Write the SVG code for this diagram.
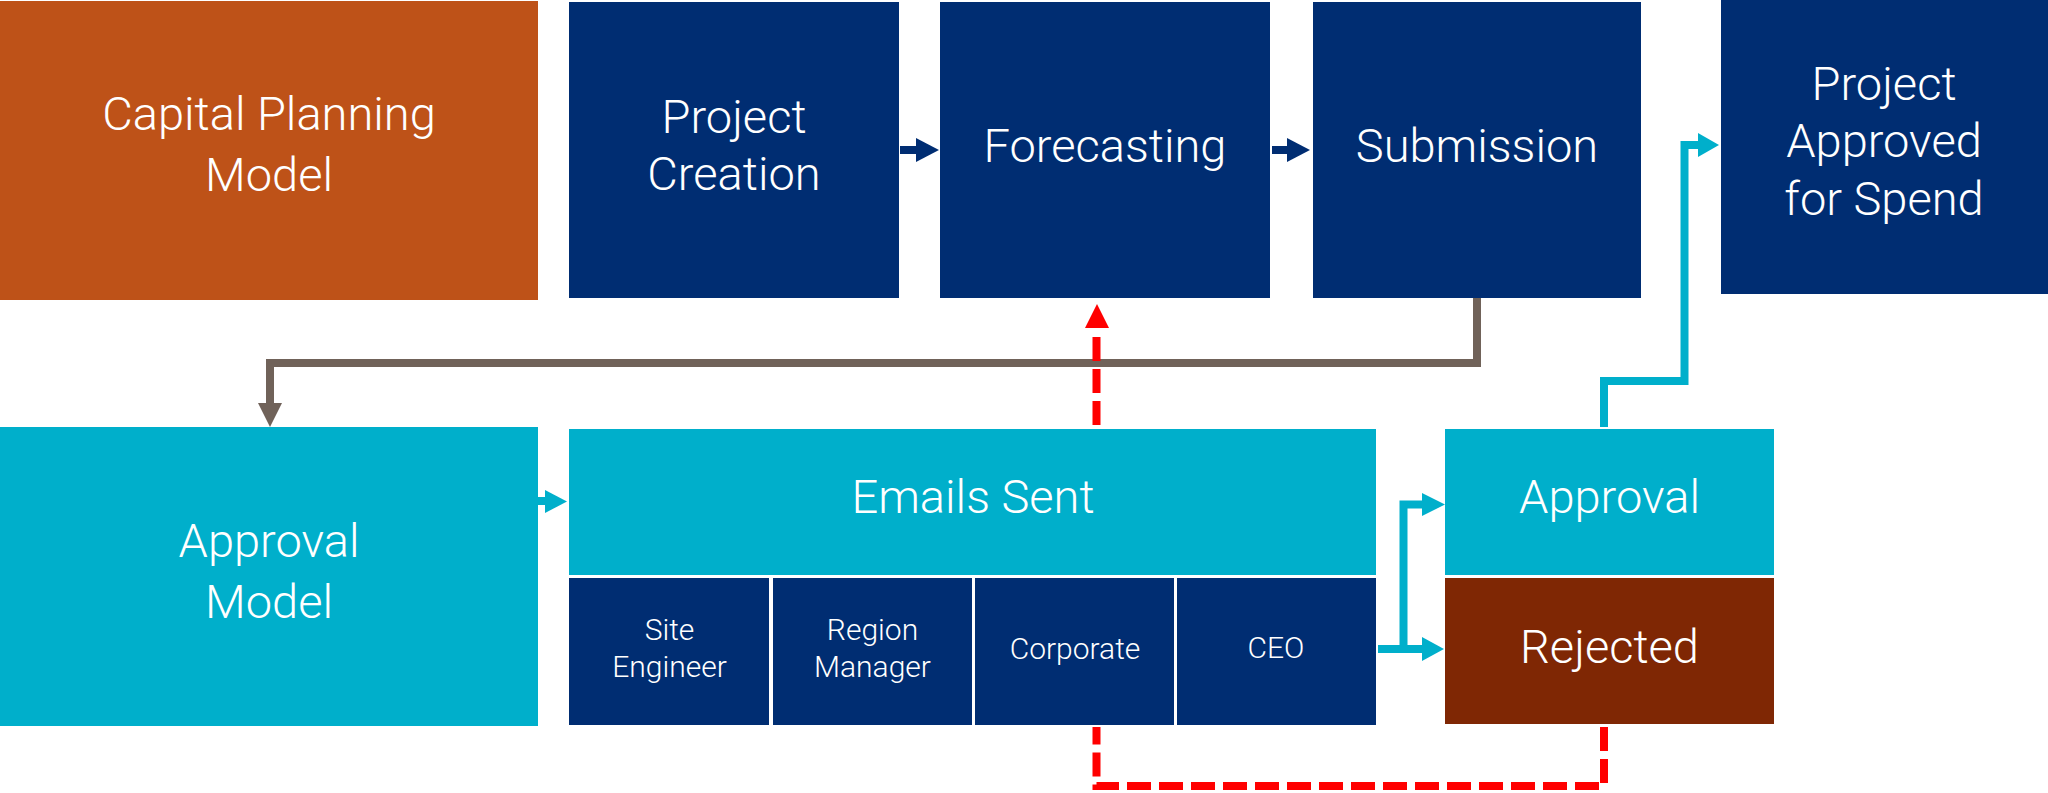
<svg xmlns="http://www.w3.org/2000/svg" width="2048" height="793" viewBox="0 0 2048 793">
<style>
.navy{fill:#002D72}
.cyan{fill:#00AFCB}
.orange{fill:#BE5218}
.rej{fill:#7F2704}
.t{font-family:Roboto,Lato,"Open Sans","Liberation Sans",sans-serif;font-weight:300;fill:#FFFFFF;text-anchor:middle}
.big{font-size:47px}
.sm{font-size:30px}
.grey{fill:none;stroke:#706259;stroke-width:8}
.cl{fill:none;stroke:#00AFCB;stroke-width:8}
.nl{fill:none;stroke:#002D72;stroke-width:8}
.red{fill:none;stroke:#FF0000;stroke-width:8;stroke-dasharray:24 8}
</style>
<rect width="2048" height="793" fill="#FFFFFF"/>
<g id="capital-planning-model">
<rect class="orange" x="0" y="1" width="538" height="299"/>
<text class="t big" x="269" y="130">Capital Planning</text>
<text class="t big" x="269" y="191">Model</text>
</g>
<g id="project-creation">
<rect class="navy" x="569" y="2" width="330" height="296"/>
<text class="t big" x="734" y="133">Project</text>
<text class="t big" x="734" y="190">Creation</text>
</g>
<g id="forecasting">
<rect class="navy" x="940" y="2" width="330" height="296"/>
<text class="t big" x="1105" y="162">Forecasting</text>
</g>
<g id="submission">
<rect class="navy" x="1313" y="2" width="328" height="296"/>
<text class="t big" x="1477" y="162">Submission</text>
</g>
<g id="project-approved">
<rect class="navy" x="1721" y="0" width="327" height="294"/>
<text class="t big" x="1884" y="100">Project</text>
<text class="t big" x="1884" y="157">Approved</text>
<text class="t big" x="1884" y="215">for Spend</text>
</g>
<g id="approval-model">
<rect class="cyan" x="0" y="427" width="538" height="299"/>
<text class="t big" x="269" y="557">Approval</text>
<text class="t big" x="269" y="618">Model</text>
</g>
<g id="emails-sent">
<rect class="cyan" x="569" y="429" width="807" height="146"/>
<text class="t big" x="973" y="513">Emails Sent</text>
</g>
<g id="site-engineer">
<rect class="navy" x="569" y="578" width="200" height="147"/>
<text class="t sm" x="669.5" y="640">Site</text>
<text class="t sm" x="669.5" y="677">Engineer</text>
</g>
<g id="region-manager">
<rect class="navy" x="773" y="578" width="199" height="147"/>
<text class="t sm" x="872.5" y="640">Region</text>
<text class="t sm" x="872.5" y="677">Manager</text>
</g>
<g id="corporate">
<rect class="navy" x="975" y="578" width="199" height="147"/>
<text class="t sm" x="1075" y="659">Corporate</text>
</g>
<g id="ceo">
<rect class="navy" x="1177" y="578" width="199" height="147"/>
<text class="t sm" x="1276" y="658">CEO</text>
</g>
<g id="approval">
<rect class="cyan" x="1445" y="429" width="329" height="146"/>
<text class="t big" x="1609.5" y="513">Approval</text>
</g>
<g id="rejected">
<rect class="rej" x="1445" y="578" width="329" height="146"/>
<text class="t big" x="1609.5" y="663">Rejected</text>
</g>
<g id="connectors">
<path class="nl" d="M900,150 H917"/>
<polygon fill="#002D72" points="916,138 939,150 916,162"/>
<path class="nl" d="M1272,150 H1288"/>
<polygon fill="#002D72" points="1287,138 1310,150 1287,162"/>
<path class="grey" d="M1477,298 V363 H270 V405"/>
<polygon fill="#706259" points="258,403 282,403 270,427"/>
<path class="cl" d="M537,501 H546"/>
<polygon fill="#00AFCB" points="545,490 567,501.5 545,513"/>
<path class="cl" d="M1378,649 H1423 M1403.5,653 V504.5 H1423"/>
<polygon fill="#00AFCB" points="1422,637 1444,649 1422,661"/>
<polygon fill="#00AFCB" points="1422,493 1445,504.5 1422,516"/>
<path class="cl" d="M1604,427 V381 H1684.5 V145 H1699"/>
<polygon fill="#00AFCB" points="1698,133 1719,145 1698,157"/>
<path class="red" d="M1096.5,425 V329"/>
<polygon fill="#FF0000" points="1085,328 1109,328 1097,304"/>
<path class="red" d="M1604,727 V786 H1096.5 V727"/>
</g>
</svg>
